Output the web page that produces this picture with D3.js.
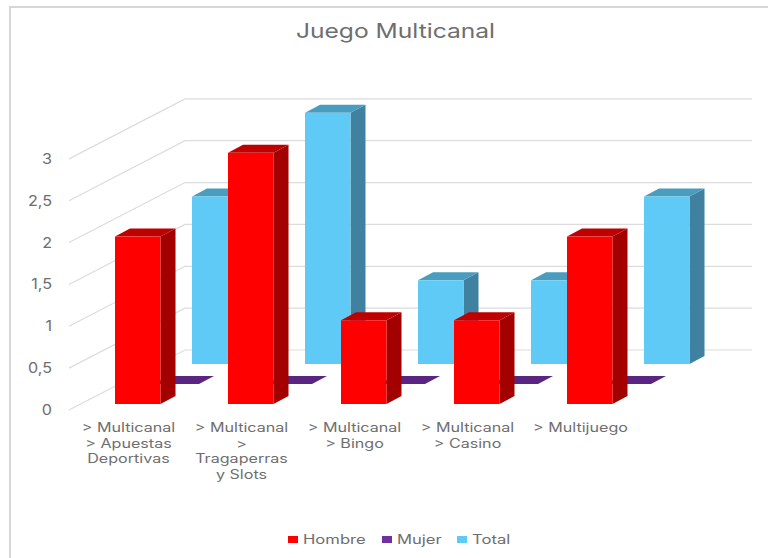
<!DOCTYPE html>
<html lang="en">
<head>
    <meta charset="UTF-8">
    <title>Juego Multicanal</title>
    <script src="https://cdn.jsdelivr.net/npm/d3@7"></script>
    <style>
        html, body { margin: 0; padding: 0; background: #fff; }
        svg { display: block; }
        text { font-family: Inter, sans-serif; fill: #6e6e6e; }
    </style>
</head>
<body>
<div class="container"></div>
<script>
    // data
    const categories = [
        ["> Multicanal", "> Apuestas", "Deportivas"],
        ["> Multicanal", ">", "Tragaperras", "y Slots"],
        ["> Multicanal", "> Bingo"],
        ["> Multicanal", "> Casino"],
        ["> Multijuego"]
    ];
    const seriesNames = ["Hombre", "Mujer", "Total"];
    const hombre = [2, 3, 1, 1, 2];
    const mujer = [0, 0, 0, 0, 0];
    const total = [2, 3, 1, 1, 2];
    const yTicks = [0, 0.5, 1, 1.5, 2, 2.5, 3, 3.5];
    const yTickLabels = ["0", "0,5", "1", "1,5", "2", "2,5", "3"];
    const front = ["#ff0000", "#5a2483", "#5fcaf6"];
    const legendColors = ["#ff0000", "#7030a0", "#5fcaf6"];
    const top_ = ["#bf0000", "#5a2483", "#4a9dbf"];
    const side = ["#a30000", "#46196a", "#3f819e"];

    const width = 768, height = 558;
    const svg = d3.select(".container").append("svg")
        .attr("width", width).attr("height", height);

    // the reference text is stretched sideways, so text goes through this
    function label(sel, str, px, py, sx, anchor) {
        return sel.append("text")
            .attr("transform", `translate(${px},${py}) scale(${sx},1)`)
            .attr("text-anchor", anchor)
            .text(str);
    }

    // chart frame
    svg.append("rect").attr("x", 10).attr("y", 7)
        .attr("width", 770).attr("height", 570)
        .attr("fill", "#fff").attr("stroke", "#d6d6d6").attr("stroke-width", 2);

    label(svg.append("g").attr("font-size", 20), "Juego Multicanal", 395.5, 38, 1.23, "middle");

    // y is the height above the floor, depth pushes things up and to the right
    const y = d3.scaleLinear().domain([0, 3.5]).range([0, 293]);
    const x = d3.scaleLinear().domain([0, 1]).range([69, 69 + 113]);
    const floorFront = 410;
    const wallDx = 116, wallDy = -60;
    const serieDepth = d3.scaleLinear().domain([0, 2]).range([0, 1]);
    const bx = (i, s) => 115 + (x(i) - x(0)) + serieDepth(s) * 77;
    const by = s => 404 - serieDepth(s) * 40;
    const barW = 45.5, dDx = 15, dDy = -8;

    // gridlines: floor edge plus back wall
    const grid = svg.append("g").attr("fill", "none").attr("stroke", "#dcdcdc").attr("stroke-width", 1.2);
    yTicks.forEach(t => {
        const yf = floorFront - y(t);
        if (t < 3.5) {
            grid.append("path").attr("d", `M69,${yf} L${69 + wallDx},${yf + wallDy} H752`);
        }
    });

    const yAxis = svg.append("g").attr("font-size", 14);
    yTickLabels.forEach((l, i) => {
        label(yAxis, l, 52, floorFront - y(yTicks[i]) + 5, 1.15, "end");
    });

    // back series first so the front ones cover them
    const values = [hombre, mujer, total];
    const bars = svg.append("g");
    [2, 1, 0].forEach(s => {
        values[s].forEach((v, i) => {
            const x0 = bx(i, s), yb = by(s), h = y(v), yt = yb - h;
            const g = bars.append("g");
            g.append("path").attr("fill", side[s])
                .attr("d", `M${x0 + barW},${yb} l${dDx},${dDy} V${yt + dDy} L${x0 + barW},${yt} Z`);
            g.append("path").attr("fill", top_[s])
                .attr("d", `M${x0},${yt} l${dDx},${dDy} h${barW} l${-dDx},${-dDy} Z`);
            if (v > 0) {
                g.append("rect").attr("x", x0).attr("y", yt)
                    .attr("width", barW).attr("height", h).attr("fill", front[s]);
            }
        });
    });

    const catLabels = svg.append("g").attr("font-size", 12.8);
    categories.forEach((lines, i) => {
        lines.forEach((l, k) => {
            label(catLabels, l, 128.5 + (x(i) - x(0)), 432 + k * 15.7, 1.26, "middle");
        });
    });

    const legendX = [288, 382, 457];
    const legend = svg.append("g").attr("font-size", 12.8);
    seriesNames.forEach((n, i) => {
        legend.append("rect").attr("x", legendX[i]).attr("y", 536)
            .attr("width", 10).attr("height", 7).attr("fill", legendColors[i]);
        label(legend, n, legendX[i] + 15, 544, 1.3, "start");
    });
</script>
</body>
</html>
